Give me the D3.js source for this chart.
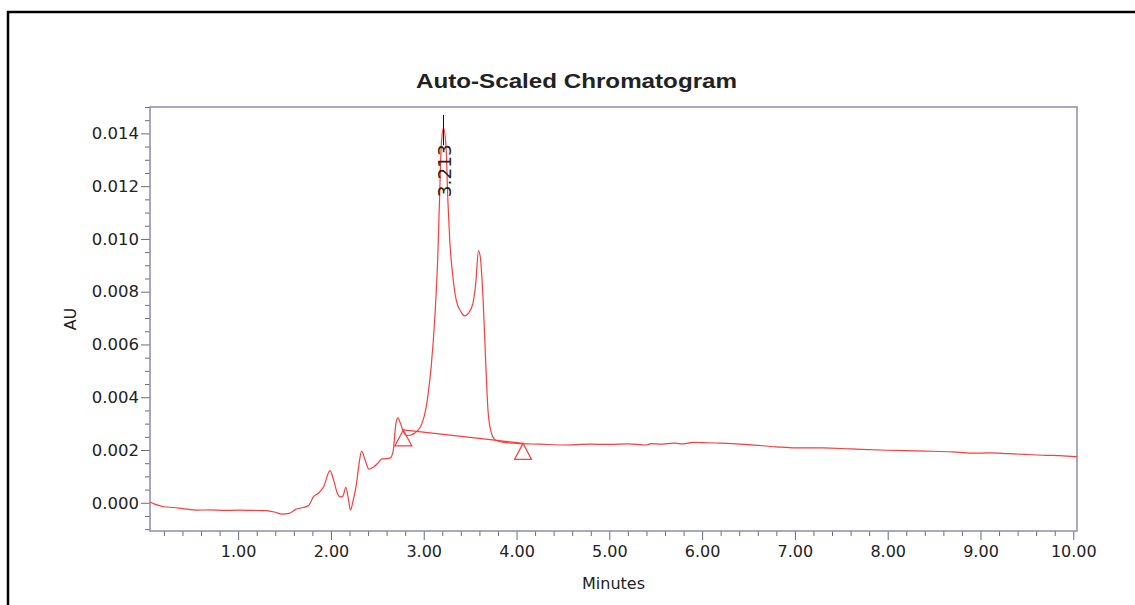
<!DOCTYPE html>
<html>
<head>
<meta charset="utf-8">
<script src="https://cdn.jsdelivr.net/npm/d3@7"></script>
<style>
  body { margin: 0; background: #fff; }
  svg text { font-family: "DejaVu Sans", "Liberation Sans", Arial, sans-serif; fill: #222; }
</style>
</head>
<body>
<script>
// trace (minutes, AU)
var minutes = [0.05, 0.10, 0.20, 0.30, 0.40, 0.55, 0.70, 0.85, 1.00, 1.15, 1.30, 1.40, 1.47, 1.55, 1.62, 1.70, 1.76,
  1.81, 1.87, 1.92, 1.99, 2.03, 2.07, 2.10, 2.13, 2.16, 2.19, 2.21, 2.24, 2.27, 2.30, 2.33, 2.37, 2.41, 2.46,
  2.51, 2.55, 2.60, 2.64, 2.67, 2.70, 2.72, 2.75, 2.78, 2.82, 2.86, 2.90, 2.94, 2.98, 3.02, 3.05, 3.08, 3.12,
  3.15, 3.17, 3.19, 3.213, 3.24, 3.26, 3.28, 3.31, 3.35, 3.40, 3.44, 3.48, 3.53, 3.56, 3.59, 3.61, 3.64, 3.67,
  3.69, 3.72, 3.77, 3.85, 4.00, 4.25, 4.50, 4.80, 5.00, 5.20, 5.40, 5.45, 5.55, 5.70, 5.80, 5.90, 6.00, 6.20,
  6.50, 6.80, 7.00, 7.30, 7.60, 8.00, 8.40, 8.70, 8.90, 9.10, 9.30, 9.50, 9.70, 9.85, 10.04];
var au = [0.00003, -0.00005, -0.00015, -0.00018, -0.00022, -0.00028, -0.00027, -0.00029, -0.00028, -0.00029,
  -0.00030, -0.00036, -0.00043, -0.00040, -0.00025, -0.00018, -0.00010,
  0.00022, 0.00038, 0.00060, 0.00122, 0.00085, 0.00035, 0.00022, 0.00026, 0.00058, 0.00010, -0.00028, 0.00010,
  0.00060, 0.00140, 0.00196, 0.00160, 0.00127, 0.00136,
  0.00152, 0.00166, 0.00167, 0.00170, 0.00195, 0.00300, 0.00322, 0.00300, 0.00270, 0.00255, 0.00257, 0.00263,
  0.00275, 0.00300, 0.00350, 0.00420, 0.00515, 0.00705,
  0.00920, 0.01147, 0.01362, 0.01420, 0.01350, 0.01147, 0.00996, 0.00870, 0.00768, 0.00725, 0.00708, 0.00718,
  0.00756, 0.00830, 0.00955, 0.00930, 0.00768, 0.00515,
  0.00364, 0.00276, 0.00238, 0.00230, 0.00225, 0.00222, 0.00219, 0.00222, 0.00221, 0.00223, 0.00219, 0.00224,
  0.00222, 0.00226, 0.00223, 0.00229, 0.00228, 0.00226,
  0.00220, 0.00212, 0.00208, 0.00208, 0.00204, 0.00199, 0.00196, 0.00193, 0.00188, 0.00189, 0.00186, 0.00183,
  0.00180, 0.00179, 0.00175];

// integration baseline (start / end of peak)
var baseTimes = [2.78, 4.07];
var baseValues = [0.00276, 0.00225];

// peak label
var peakTimes = [3.213];
var peakNames = ["3.213"];
var peakMarkTop = [0.0147];
var peakMarkBottom = [0.01355];

var xTicks = [1, 2, 3, 4, 5, 6, 7, 8, 9, 10];
var yTicks = [0, 0.002, 0.004, 0.006, 0.008, 0.010, 0.012, 0.014];

var W = 1135, H = 605;
var margin = { left: 150, top: 107, right: 58, bottom: 74 };
var w = W - margin.left - margin.right;
var h = H - margin.top - margin.bottom;

var svg = d3.select('body').append('svg').attr('width', W).attr('height', H);

// black page frame (top and left edges only visible)
svg.append('path')
  .attr('d', 'M8,605 L8,12 L1135,12')
  .attr('fill', 'none').attr('stroke', '#000').attr('stroke-width', 2.5);

var x = d3.scaleLinear().domain([0.05, 10.04]).range([0, w]);
var y = d3.scaleLinear().domain([-0.00107, 0.0150]).range([h, 0]);

var g = svg.append('g').attr('transform', 'translate(' + margin.left + ',' + margin.top + ')');

// title
svg.append('text')
  .attr('x', 576.5).attr('y', 88)
  .attr('text-anchor', 'middle')
  .style('font-family', '"Liberation Sans", Arial, sans-serif')
  .style('font-size', '21px').style('font-weight', 'bold')
  .attr('textLength', 321).attr('lengthAdjust', 'spacingAndGlyphs')
  .text('Auto-Scaled Chromatogram');

// minor ticks
var xMinor = d3.range(0.2, 10.01, 0.2).filter(function(d) { return Math.abs(d - Math.round(d)) > 0.01; });
var yMinor = d3.range(-0.001, 0.01501, 0.0005).filter(function(d) { return Math.abs(d / 0.002 - Math.round(d / 0.002)) > 0.01; });

g.append('g').attr('class', 'minor').attr('transform', 'translate(0,' + h + ')')
  .call(d3.axisBottom(x).tickValues(xMinor).tickSize(5).tickFormat(''));
g.append('g').attr('class', 'minor')
  .call(d3.axisLeft(y).tickValues(yMinor).tickSize(5).tickFormat(''));

var xAxis = g.append('g').attr('transform', 'translate(0,' + h + ')')
  .call(d3.axisBottom(x).tickValues(xTicks).tickSize(9).tickPadding(6).tickFormat(d3.format('.2f')));
var yAxis = g.append('g')
  .call(d3.axisLeft(y).tickValues(yTicks).tickSize(9).tickPadding(2).tickFormat(d3.format('.3f')));

g.selectAll('.domain').remove();
g.selectAll('.tick line').attr('stroke', '#6a6a7a');
xAxis.selectAll('text').style('font-size', '16px').attr('fill', '#222');
yAxis.selectAll('text').style('font-size', '16.5px').attr('fill', '#222');

// plot frame
g.append('rect')
  .attr('width', w).attr('height', h)
  .attr('fill', 'none').attr('stroke', '#8c8cae').attr('stroke-width', 1.5);

// axis titles
svg.append('text')
  .attr('x', margin.left + w / 2).attr('y', 589)
  .attr('text-anchor', 'middle').style('font-size', '16px')
  .text('Minutes');
svg.append('text')
  .attr('transform', 'translate(76,' + (margin.top + h / 2) + ') rotate(-90)')
  .attr('text-anchor', 'middle').style('font-size', '16px')
  .text('AU');

// trace
var line = d3.line()
  .x(function(d, i) { return x(minutes[i]); })
  .y(function(d, i) { return y(au[i]); })
  .curve(d3.curveMonotoneX);

g.append('path')
  .datum(au)
  .attr('d', line)
  .attr('fill', 'none').attr('stroke', '#ff3b3b').attr('stroke-width', 1.2);

// baseline
g.append('line')
  .attr('x1', x(baseTimes[0])).attr('y1', y(baseValues[0]))
  .attr('x2', x(baseTimes[1])).attr('y2', y(baseValues[1]))
  .attr('stroke', '#ff3b3b').attr('stroke-width', 1.2);

// start / end triangles, apex on the baseline point
g.selectAll('.tri').data(baseTimes).enter().append('path')
  .attr('class', 'tri')
  .attr('d', function(d, i) {
    var px = x(d), py = y(baseValues[i]);
    return 'M' + px + ',' + py + 'L' + (px + 8.5) + ',' + (py + 16) + 'L' + (px - 8.5) + ',' + (py + 16) + 'Z';
  })
  .attr('fill', 'none').attr('stroke', '#ff3b3b').attr('stroke-width', 1.2);

// peak marker and label
g.selectAll('.pk').data(peakTimes).enter().append('line')
  .attr('x1', function(d) { return x(d); }).attr('x2', function(d) { return x(d); })
  .attr('y1', function(d, i) { return y(peakMarkTop[i]); })
  .attr('y2', function(d, i) { return y(peakMarkBottom[i]); })
  .attr('stroke', '#111').attr('stroke-width', 1);

g.selectAll('.pklabel').data(peakTimes).enter().append('text')
  .attr('transform', function(d, i) {
    return 'translate(' + (x(d) + 7) + ',' + (y(peakMarkBottom[i]) - 1) + ') rotate(-90)';
  })
  .attr('text-anchor', 'end').style('font-size', '18.5px')
  .text(function(d, i) { return peakNames[i]; });
</script>
</body>
</html>
